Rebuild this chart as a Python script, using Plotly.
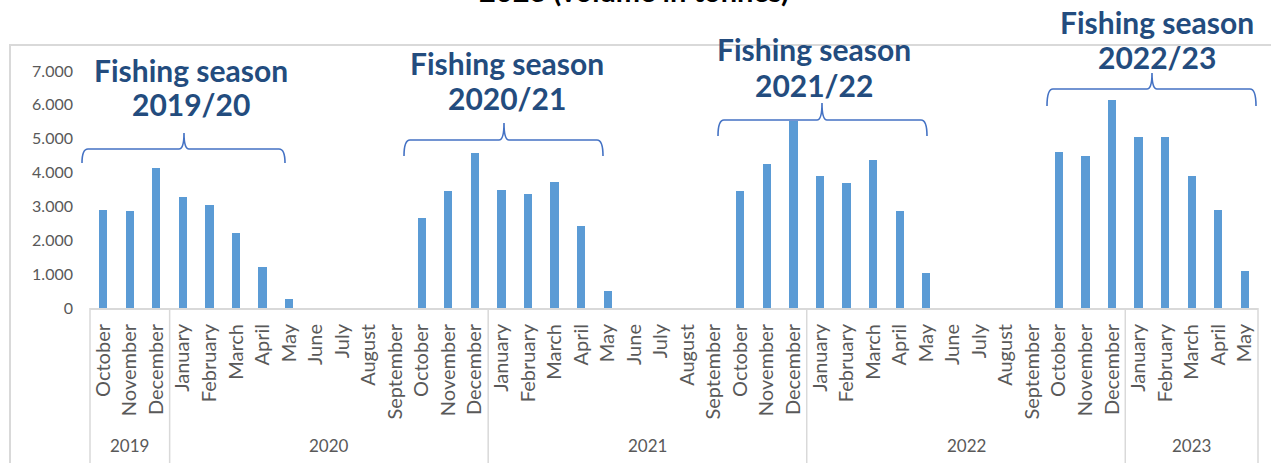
import plotly.graph_objects as go

# ---- data: monthly landings (tonnes), October 2019 - May 2023 ----
years = ["2019", "2020", "2021", "2022", "2023"]
months_per_year = [
    ["October", "November", "December"],
    ["January", "February", "March", "April", "May", "June", "July", "August",
     "September", "October", "November", "December"],
    ["January", "February", "March", "April", "May", "June", "July", "August",
     "September", "October", "November", "December"],
    ["January", "February", "March", "April", "May", "June", "July", "August",
     "September", "October", "November", "December"],
    ["January", "February", "March", "April", "May"],
]
volume_2019 = [2900, 2870, 4130]
volume_2020 = [3290, 3030, 2220, 1210, 270, 0, 0, 0, 0, 2670, 3460, 4590]
volume_2021 = [3490, 3360, 3720, 2420, 500, 0, 0, 0, 0, 3450, 4260, 5510]
volume_2022 = [3910, 3690, 4360, 2860, 1040, 0, 0, 0, 0, 4620, 4490, 6150]
volume_2023 = [5050, 5050, 3910, 2900, 1080]

seasons = ["2019/20", "2020/21", "2021/22", "2022/23"]
y_ticks = [0, 1000, 2000, 3000, 4000, 5000, 6000, 7000]

month_labels = [m for ms in months_per_year for m in ms]
volumes = volume_2019 + volume_2020 + volume_2021 + volume_2022 + volume_2023
idx = list(range(len(month_labels)))
n = len(idx)

# ---- figure geometry (pixels) ----
W, H = 1271, 463
L, R, T, B = 90, 13, 71, 155
PW, PH = W - L - R, H - T - B


def xp(x):
    """pixel x -> paper x"""
    return (x - L) / PW


def yp(y):
    """pixel y (from top) -> paper y"""
    return (H - B - y) / PH


def xcat(i):
    """category position -> paper x"""
    return (i + 0.5) / n


BAR = "#5B9BD5"
GRID = "#D9D9D9"
TXT = "#595959"
NAVY = "#234C7E"
BRACE = "#4472C4"
FONT = "Lato"

fig = go.Figure(
    go.Bar(
        x=idx,
        y=volumes,
        width=0.31,
        marker=dict(color=BAR, line=dict(width=0)),
        hoverinfo="skip",
    )
)

shapes = []
annotations = []

# outer chart frame
shapes.append(dict(type="rect", xref="paper", yref="paper",
                   x0=xp(10), x1=xp(1300), y0=yp(45), y1=yp(500),
                   line=dict(color=GRID, width=2), fillcolor="rgba(0,0,0,0)",
                   layer="below"))

# year group dividers and labels under the month labels
start = 0
bounds = [0]
for ms in months_per_year:
    start += len(ms)
    bounds.append(start)
for b in bounds:
    shapes.append(dict(type="line", xref="paper", yref="paper",
                       x0=xcat(b - 0.5), x1=xcat(b - 0.5),
                       y0=yp(308), y1=yp(470),
                       line=dict(color=GRID, width=1.5)))
for k, yr in enumerate(years):
    mid = (bounds[k] + bounds[k + 1] - 1) / 2
    annotations.append(dict(xref="paper", yref="paper", x=xcat(mid), y=yp(445),
                            text=yr, showarrow=False, xanchor="center",
                            yanchor="middle",
                            font=dict(family=FONT, size=17, color=TXT)))

# season braces: (left, right, tip, horizontal level, end level, tip level) in px
brace_px = [
    (82, 285, 184, 149, 163, 133),
    (404, 603, 504, 140, 156, 123),
    (718, 927, 822, 120, 136, 103),
    (1047, 1256, 1152, 89, 106, 73),
]
label_px = [
    (191, 70, 104),
    (507, 63, 98),
    (814, 49, 85),
    (1157, 22, 57),
]
for (xl, xr, xm, yh, yb, yt), (cx, y1, y2), s in zip(brace_px, label_px, seasons):
    r, c = 6, 5
    path = (
        f"M {xp(xl)},{yp(yb)} Q {xp(xl)},{yp(yh)} {xp(xl + r)},{yp(yh)} "
        f"L {xp(xm - c)},{yp(yh)} Q {xp(xm)},{yp(yh)} {xp(xm)},{yp(yt)} "
        f"Q {xp(xm)},{yp(yh)} {xp(xm + c)},{yp(yh)} "
        f"L {xp(xr - r)},{yp(yh)} Q {xp(xr)},{yp(yh)} {xp(xr)},{yp(yb)}"
    )
    shapes.append(dict(type="path", xref="paper", yref="paper", path=path,
                       line=dict(color=BRACE, width=1.6)))
    for text, yy in (("Fishing season", y1), (s, y2)):
        annotations.append(dict(xref="paper", yref="paper", x=xp(cx), y=yp(yy),
                                text=f"<b>{text}</b>", showarrow=False,
                                xanchor="center", yanchor="middle",
                                font=dict(family=FONT, size=30, color=NAVY)))

# chart title (second line)
annotations.append(dict(xref="paper", yref="paper", x=xp(634), y=yp(10),
                        text="<b>2023 (volume in tonnes)</b>", showarrow=False,
                        xanchor="center", yanchor="bottom",
                        font=dict(family=FONT, size=29, color="#000000")))

fig.update_layout(
    width=W, height=H,
    margin=dict(l=L, r=R, t=T, b=B, pad=0),
    paper_bgcolor="white", plot_bgcolor="white",
    separators=",.",
    showlegend=False,
    bargap=0,
    shapes=shapes,
    annotations=annotations,
    xaxis=dict(
        range=[-0.5, n - 0.5],
        tickmode="array", tickvals=idx, ticktext=month_labels,
        tickangle=-90,
        showgrid=False, zeroline=False,
        showline=True, linecolor=GRID, linewidth=2,
        ticks="", ticklabelstandoff=6,
        tickfont=dict(family=FONT, size=20, color=TXT),
        fixedrange=True,
    ),
    yaxis=dict(
        range=[0, 7000],
        tickmode="array", tickvals=y_ticks,
        tickformat=",d",
        showgrid=False, zeroline=False, showline=False,
        ticks="", ticklabelstandoff=16,
        tickfont=dict(family=FONT, size=16, color=TXT),
        fixedrange=True,
    ),
)

fig.write_html("out.html")
